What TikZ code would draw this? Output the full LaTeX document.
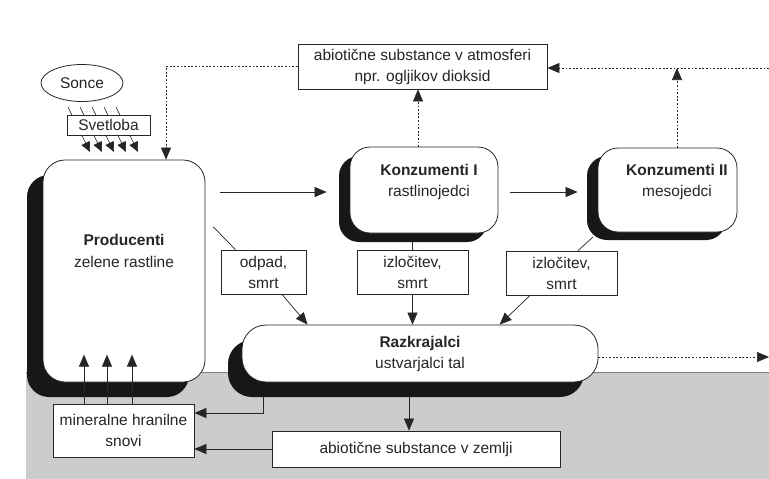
\documentclass[tikz,border=0pt]{standalone}
\usepackage{fontspec}
\setmainfont{Liberation Sans}
\usetikzlibrary{arrows.meta,shapes.geometric,shadows,calc}
\definecolor{ink}{HTML}{262626}
\definecolor{shade}{HTML}{161816}
\definecolor{soil}{HTML}{CCCCCC}
\begin{document}
\begin{tikzpicture}[x=1pt,y=-1pt,
  font=\fontsize{15.5}{21}\selectfont, text=ink,
  box/.style={draw=ink, line width=0.8pt, fill=white, inner sep=0pt, align=center},
  txt/.style={align=center, inner sep=0pt},
  ln/.style={draw=ink, line width=0.7pt},
  arr/.style={ln, -{Triangle[length=12pt,width=10pt]}},
  dotl/.style={dash pattern=on 1.8pt off 1.8pt},
  shad/.style 2 args={general shadow={fill=shade, shadow xshift=#1, shadow yshift=#2}}]
\useasboundingbox (0,0) rectangle (769,479);
\fill[white] (0,0) rectangle (769,479);
% soil
\fill[soil] (26,372) rectangle (769,479);
\draw[gray, line width=0.6pt] (26,372) -- (769,372);

% sun and light
\node[draw=ink, line width=0.8pt, ellipse, minimum width=82pt, minimum height=37pt, inner sep=0pt] (sonce) at (82,83) {Sonce};
\foreach \x in {68,80,92,104,116}
  \draw[ln, line width=0.6pt, -{Triangle[length=10pt,width=9pt]}] (\x,107) -- (\x+22,152);
\node[box, minimum width=83pt, minimum height=20pt] (svet) at (108.5,125) {Svetloba};

% main boxes
\node[box, rounded corners=22pt, minimum width=162pt, minimum height=222pt, shad={-16pt}{-15pt}] (prod) at (124,271) {};
\node[txt, font=\fontsize{15.5}{22}\selectfont] (prodt) at (124,251) {\textbf{Producenti}\\zelene rastline};

\node[box, rounded corners=20pt, minimum width=148pt, minimum height=86pt, shad={-11pt}{-9pt}] (k1) at (424,190) {};
\node[txt] (k1t) at (429,182) {\textbf{Konzumenti I}\\rastlinojedci};

\node[box, rounded corners=20pt, minimum width=139pt, minimum height=84pt, shad={-11pt}{-8pt}] (k2) at (667.5,190) {};
\node[txt] (k2t) at (677,182) {\textbf{Konzumenti II}\\mesojedci};

\node[box, rounded corners=24pt, minimum width=356pt, minimum height=57pt, shad={-14pt}{-15pt}] (razk) at (420,353.5) {\textbf{Razkrajalci}\\ustvarjalci tal};

% rectangular boxes
\node[box, minimum width=249pt, minimum height=45pt] (atm) at (422.5,66.5) {abiotične substance v atmosferi\\npr. ogljikov dioksid};
\node[box, minimum width=85pt, minimum height=44pt] (odpad) at (263.5,272) {odpad,\\smrt};
\node[box, minimum width=111pt, minimum height=44pt] (izl1) at (412.5,272) {izločitev,\\smrt};
\node[box, minimum width=111pt, minimum height=44pt] (izl2) at (561.5,273) {izločitev,\\smrt};
\node[box, minimum width=141pt, minimum height=53pt] (miner) at (123.5,430.5) {mineralne hranilne\\snovi};
\node[box, minimum width=288pt, minimum height=36pt] (zemlji) at (416,449) {abiotične substance v zemlji};

% coordinates
\coordinate (k1b) at (412.5,242);
\coordinate (k2b) at (593,237);
\coordinate (rb1) at (409,397);
\coordinate (rb2) at (263,397);
\coordinate (rightR) at (769,357);
\coordinate (rightT) at (769,68);
\coordinate (k2top) at (677,148);
\coordinate (k1top) at (418,147);

% food chain arrows
\draw[arr, shorten <=15pt, shorten >=23pt] (prod.east |- 0,192) -- (k1.west |- 0,192);
\draw[arr, shorten <=12pt, shorten >=20pt] (k1.east |- 0,192) -- (k2.west |- 0,192);

% waste
\draw[ln] ([shift={(8,-44)}]prod.east) -- ([xshift=-28pt]odpad.north);
\draw[arr] ([xshift=18.5pt]odpad.south) -- ([xshift=66pt]razk.north west);
\draw[ln] (k1b) -- (izl1.north);
\draw[arr] (izl1.south) -- (izl1.south |- razk.north);
\draw[ln] (k2b) -- ([xshift=16.5pt]izl2.north);
\draw[arr] ([xshift=-31.5pt]izl2.south) -- ([xshift=258pt]razk.north west);

% soil flows
\draw[arr] (rb1) -- (rb1 |- zemlji.north);
\draw[arr] (rb2) |- ([yshift=17.5pt]miner.east);
\draw[arr] (zemlji.west) -- (zemlji.west -| miner.east);
\foreach \dx in {-39.5,-16.5,8.5}
  \draw[arr] ([xshift=\dx pt]miner.north) -- ++(0,-49);

% dotted atmosphere flows
\draw[arr, dotl] (atm.west) -| ([xshift=42pt]prod.north);
\draw[arr, dotl] (k1top) -- (k1top |- atm.south);
\draw[arr, dotl] (k2top) -- (k2top |- rightT);
\draw[arr, dotl] (rightT) -- (rightT -| atm.east);
\draw[arr, dotl] (razk.east |- rightR) -- (rightR);
\end{tikzpicture}
\end{document}
